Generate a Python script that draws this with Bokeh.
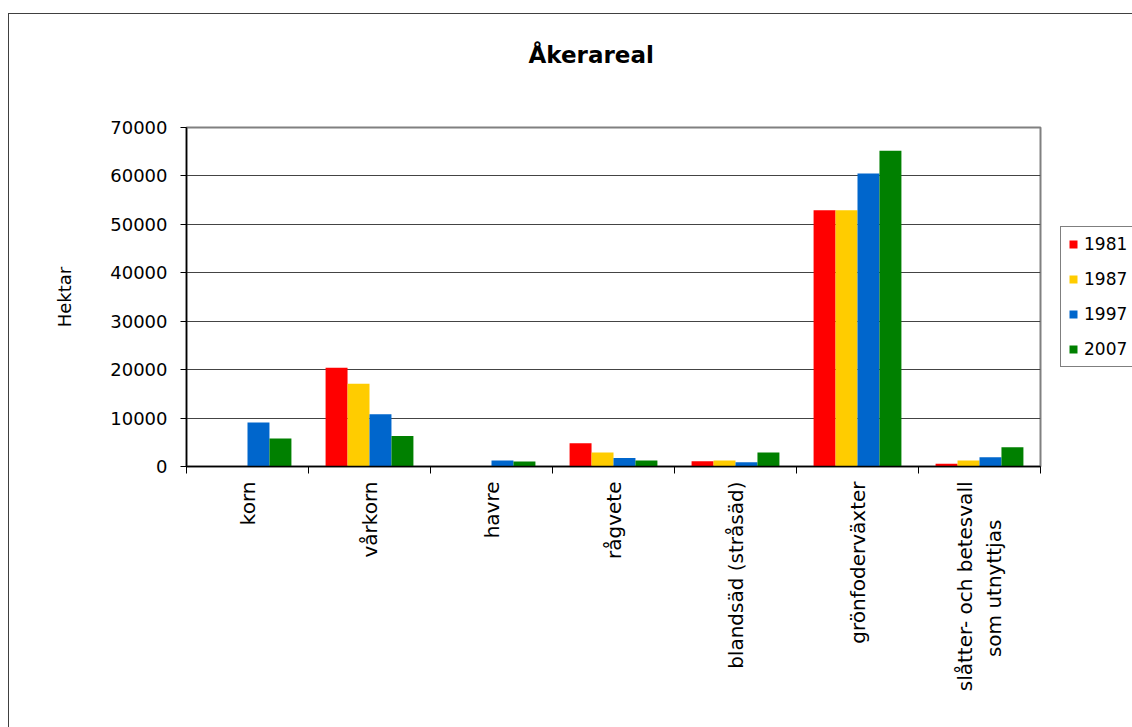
import numpy as np
from bokeh.plotting import figure
from bokeh.models import (ColumnDataSource, FixedTicker, Legend, LegendItem,
                          Range1d, NumeralTickFormatter)
from bokeh.transform import dodge
from bokeh.embed import file_html
from bokeh.resources import INLINE

# --- data -------------------------------------------------------------
title = "Åkerareal"
y_label = "Hektar"
categories = [
    "korn",
    "vårkorn",
    "havre",
    "rågvete",
    "blandsäd (stråsäd)",
    "grönfoderväxter",
    "slåtter- och betesvall\nsom utnyttjas",
]
years = ["1981", "1987", "1997", "2007"]
area_1981 = [0, 20400, 0, 4800, 1100, 52900, 550]
area_1987 = [0, 17100, 0, 2900, 1250, 52900, 1250]
area_1997 = [9100, 10800, 1250, 1750, 900, 60500, 1900]
area_2007 = [5800, 6300, 1050, 1250, 2900, 65200, 3950]
y_ticks = [0, 10000, 20000, 30000, 40000, 50000, 60000, 70000]

colors = ["#FF0000", "#FFCC00", "#0066CC", "#008000"]
FONT = "DejaVu Sans"


def centred_lines(label, pad=6):
    """Rotated tick labels are end-aligned at the axis; pad the trailing
    lines of a two-line label with no-break spaces so they sit centred."""
    lines = label.split("\n")
    return "\n".join([lines[0]] + [s + "\u00a0" * pad for s in lines[1:]])


# category slots are unit wide; bars sit around the slot centre
centers = [i + 0.5 for i in range(len(categories))]
source = ColumnDataSource(dict(
    x=centers,
    y1981=area_1981, y1987=area_1987, y1997=area_1997, y2007=area_2007,
))

p = figure(
    frame_width=854, frame_height=339,
    output_backend="svg", toolbar_location=None,
    x_range=Range1d(0, len(categories)), y_range=Range1d(0, y_ticks[-1]),
    min_border_left=186, min_border_right=92,
    min_border_top=127, min_border_bottom=261,
    background_fill_color="white", border_fill_alpha=0,
    outline_line_color="#808080", outline_line_width=2,
)

# white page with a thin chart border starting near the top-left corner
p.styles = {
    "background": (
        "linear-gradient(#404040, #404040) 8px 13px / 1px 100% no-repeat, "
        "linear-gradient(#404040, #404040) 8px 13px / 100% 1px no-repeat, "
        "white"
    )
}

bar_w = 0.18
offsets = [-1.5 * bar_w, -0.5 * bar_w, 0.5 * bar_w, 1.5 * bar_w]
renderers = []
for year, color, off in zip(years, colors, offsets):
    r = p.vbar(x=dodge("x", off, range=p.x_range), top="y" + year, width=bar_w,
               source=source, fill_color=color, line_color=None)
    renderers.append(r)

# --- title ------------------------------------------------------------
# an empty second line gives the title panel extra height so the heading
# sits higher above the plot area
p.title.text = title + "\n\u00a0"
p.title.align = "left"
p.title.vertical_align = "top"
p.title.offset = 342
p.title.standoff = 64
p.title.text_font = FONT
p.title.text_font_style = "bold"
p.title.text_font_size = "23px"
p.title.text_color = "black"

# --- axes -------------------------------------------------------------
xa = p.xaxis[0]
xa.ticker = FixedTicker(ticks=centers, minor_ticks=list(range(len(categories) + 1)))
xa.major_label_overrides = {c: centred_lines(name) for c, name in zip(centers, categories)}
xa.major_label_orientation = np.pi / 2
xa.major_tick_line_color = None
xa.minor_tick_line_color = "black"
xa.minor_tick_in = 0
xa.minor_tick_out = 7
xa.major_label_standoff = 8
xa.major_label_text_font = FONT
xa.major_label_text_font_size = "20px"
xa.major_label_text_color = "black"
xa.axis_line_color = "black"
xa.axis_line_width = 1.5

ya = p.yaxis[0]
ya.ticker = FixedTicker(ticks=y_ticks, minor_ticks=[])
ya.formatter = NumeralTickFormatter(format="0")
ya.major_tick_in = 0
ya.major_tick_out = 6
ya.major_tick_line_color = "black"
ya.major_label_standoff = 13
ya.major_label_text_font = FONT
ya.major_label_text_font_size = "18px"
ya.major_label_text_color = "black"
ya.axis_line_color = "black"
ya.axis_line_width = 1.5
ya.axis_label = y_label
ya.axis_label_text_font = FONT
ya.axis_label_text_font_size = "18px"
ya.axis_label_text_font_style = "normal"
ya.axis_label_text_color = "black"
ya.axis_label_standoff = 32

p.xgrid.visible = False
p.ygrid.grid_line_color = "#444444"
p.ygrid.grid_line_width = 1

# --- legend -----------------------------------------------------------
legend = Legend(
    items=[LegendItem(label=y, renderers=[r]) for y, r in zip(years, renderers)],
    location=(20, 99),
    orientation="vertical",
    glyph_width=10, glyph_height=10,
    label_height=20, label_standoff=6,
    spacing=15, padding=7, margin=0,
    label_text_font=FONT, label_text_font_size="17px", label_text_color="black",
    border_line_color="black", border_line_width=1,
    background_fill_color="white", background_fill_alpha=1,
)
p.add_layout(legend, "right")

open("out.html", "w").write(file_html(p, INLINE))
